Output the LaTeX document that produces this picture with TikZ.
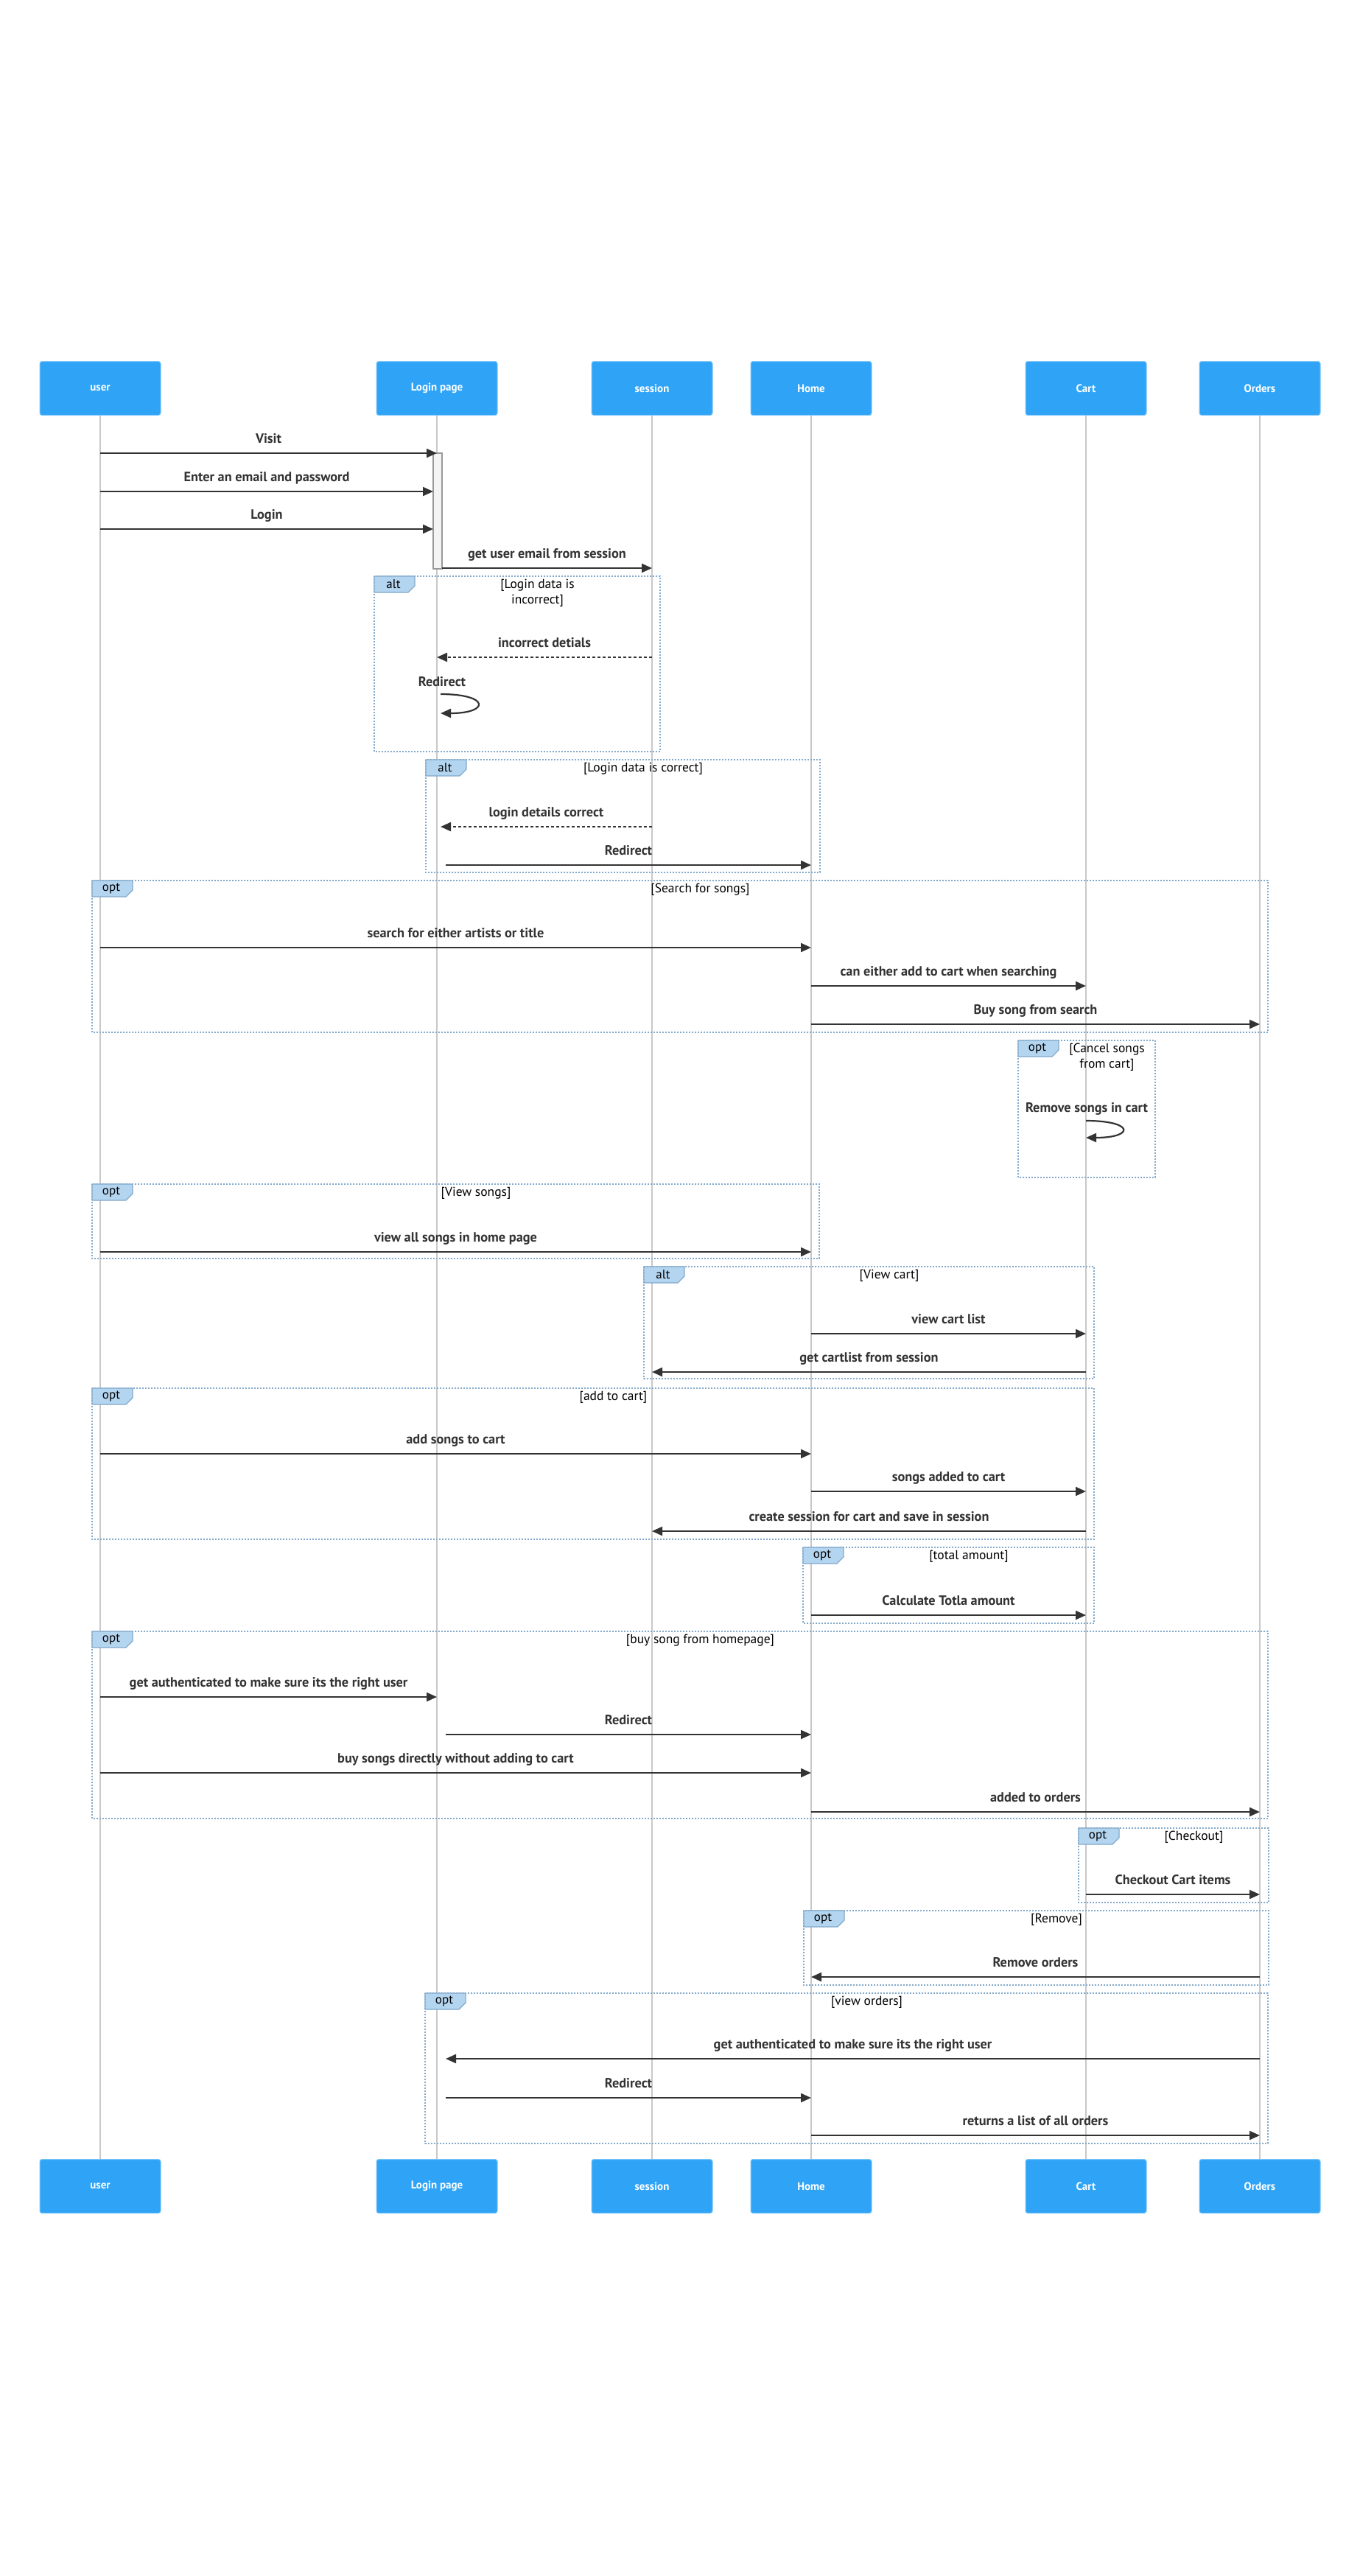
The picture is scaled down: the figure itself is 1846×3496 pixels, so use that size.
\documentclass[tikz,border=0pt]{standalone}
\usepackage{fontspec}
\setmainfont{PT Sans}
\usetikzlibrary{arrows.meta}
\definecolor{actorblue}{HTML}{2FA4F7}
\definecolor{actoredge}{HTML}{7CC6FA}
\definecolor{tabfill}{HTML}{B4D5F0}
\definecolor{fragline}{HTML}{82A9CB}
\definecolor{msgline}{HTML}{333333}
\definecolor{lifeline}{HTML}{C8C8C8}
\definecolor{actfill}{HTML}{F4F4F4}
\tikzset{
  actor/.style={rectangle, rounded corners=3pt, fill=actorblue, draw=actoredge, line width=1pt,
    minimum width=164pt, minimum height=73pt, inner sep=0pt,
    text=white, font=\fontsize{15}{18}\selectfont\bfseries},
  life/.style={draw=lifeline, line width=2pt},
  msg/.style={draw=msgline, line width=2.2pt, -{Triangle[length=14pt,width=12pt]}},
  dsh/.style={dash pattern=on 4pt off 3pt},
  lbl/.style={pos=0.5, anchor=base, yshift=14pt, inner sep=0pt, text=msgline,
    font=\fontsize{18.3}{21}\selectfont\bfseries},
  slbl/.style={anchor=base, inner sep=0pt, text=msgline,
    font=\fontsize{18.3}{21}\selectfont\bfseries},
  fragbox/.style={draw=fragline, line width=2pt, dash pattern=on 2pt off 2pt},
  tabst/.style={draw=fragline, fill=tabfill, line width=1.2pt},
  kwst/.style={inner sep=0pt, font=\fontsize{17}{20}\selectfont, text=black},
  condst/.style={inner sep=0pt, align=center, font=\fontsize{17.5}{20.5}\selectfont, text=black},
  activ/.style={draw=gray!80, fill=actfill, line width=1.5pt}
}
% fragment: name, x0, y0, x1, y1, keyword, condition
\newcommand\frag[7]{%
  \draw[fragbox] (#2,#3) rectangle (#4,#5);
  \draw[tabst] (#2,#3) -- (#2+55,#3) -- (#2+55,#3+13) -- (#2+46,#3+22) -- (#2,#3+22) -- cycle;
  \node[kwst] (#1k) at (#2+26,#3+11) {#6};
  \node[condst, anchor=north] (#1c) at ({(#2+55+#4)/2},#3+4) {#7};
}
% message: [style] from, to, y, label
\newcommand\msg[5][]{%
  \draw[msg,#1] (#2 |- 0,#4) -- node[lbl] {#5} (#3 |- 0,#4);
}
\begin{document}
\begin{tikzpicture}[x=1pt,y=-1pt]
\useasboundingbox[fill=white] (0,0) rectangle (1846,3496);
% actors
\foreach \n/\x/\t in {u/136/user, l/593/Login page, s/885/session, h/1101/Home, c/1474/Cart, o/1710/Orders}{
  \node[actor] (\n T) at (\x,527) {\t};
  \node[actor] (\n B) at (\x,2967) {\t};
}
\foreach \n in {u,l,s,h,c,o}{ \draw[life] (\n T.south) -- (\n B.north); }
% offset coordinates on the Login page lifeline
\coordinate (lA) at (588,0);
\coordinate (lB) at (598,0);
\coordinate (lR) at (605,0);
% fragments
\frag{fA}{508}{782}{896}{1020}{alt}{[Login data is\\incorrect]}
\frag{fB}{578}{1031}{1113}{1184}{alt}{[Login data is correct]}
\frag{fC}{125}{1195}{1721}{1401}{opt}{[Search for songs]}
\frag{fD}{1382}{1412}{1568}{1598}{opt}{[Cancel songs\\from cart]}
\frag{fE}{125}{1607}{1112}{1708}{opt}{[View songs]}
\frag{fF}{874}{1719}{1485}{1871}{alt}{[View cart]}
\frag{fG}{125}{1884}{1485}{2089}{opt}{[add to cart]}
\frag{fH}{1090}{2100}{1485}{2203}{opt}{[total amount]}
\frag{fI}{125}{2214}{1721}{2468}{opt}{[buy song from homepage]}
\frag{fJ}{1464}{2481}{1722}{2582}{opt}{[Checkout]}
\frag{fK}{1091}{2593}{1722}{2694}{opt}{[Remove]}
\frag{fL}{577}{2705}{1721}{2909}{opt}{[view orders]}
% activation
\draw[activ] (588,615) rectangle (600,772);
% messages
\msg{uT}{lT}{615}{Visit}
\msg{uT}{lA}{667}{Enter an email and password}
\msg{uT}{lA}{718}{Login}
\draw[msg] (600,771) -- node[lbl] {get user email from session} (sT |- 0,771);
\msg[dsh]{sT}{lT}{892}{incorrect detials}
\node[slbl] (rd1) at (600,931) {Redirect};
\draw[msg] (lB |- 0,942) .. controls (665,942) and (665,968) .. (lB |- 0,968);
\msg[dsh]{sT}{lB}{1122}{login details correct}
\msg{lR}{hT}{1174}{Redirect}
\msg{uT}{hT}{1286}{search for either artists or title}
\msg{hT}{cT}{1338}{can either add to cart when searching}
\msg{hT}{oT}{1390}{Buy song from search}
\node[slbl] (rsc) at (1475,1509) {Remove songs in cart};
\draw[msg] (cT |- 0,1521) .. controls (1540,1521) and (1540,1544) .. (cT |- 0,1544);
\msg{uT}{hT}{1699}{view all songs in home page}
\msg{hT}{cT}{1810}{view cart list}
\msg{cT}{sT}{1862}{get cartlist from session}
\msg{uT}{hT}{1973}{add songs to cart}
\msg{hT}{cT}{2024}{songs added to cart}
\msg{cT}{sT}{2078}{create session for cart and save in session}
\msg{hT}{cT}{2192}{Calculate Totla amount}
\msg{uT}{lT}{2303}{get authenticated to make sure its the right user}
\msg{lR}{hT}{2354}{Redirect}
\msg{uT}{hT}{2406}{buy songs directly without adding to cart}
\msg{hT}{oT}{2459}{added to orders}
\msg{cT}{oT}{2571}{Checkout Cart items}
\msg{oT}{hT}{2683}{Remove orders}
\msg{oT}{lR}{2794}{get authenticated to make sure its the right user}
\msg{lR}{hT}{2847}{Redirect}
\msg{hT}{oT}{2898}{returns a list of all orders}
\end{tikzpicture}
\end{document}
